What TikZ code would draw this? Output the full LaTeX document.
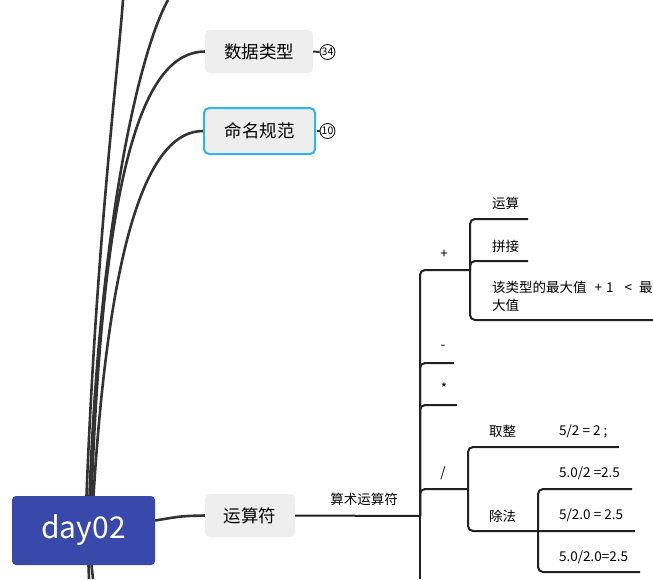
\documentclass[tikz,border=0pt]{standalone}
\usepackage{fontspec}
\setmainfont{Noto Sans CJK SC}
\usetikzlibrary{positioning}
\definecolor{rootblue}{HTML}{3949AB}
\definecolor{topicgray}{HTML}{EEEEEE}
\definecolor{selcyan}{HTML}{2CB5EE}
\definecolor{linegray}{HTML}{333333}
\tikzset{
    root/.style={fill=rootblue, rounded corners=4pt, minimum width=143, minimum height=69, text=white, font=\fontsize{30}{36}\selectfont},
    topic/.style={fill=topicgray, rounded corners=5pt, minimum width=108, minimum height=43, inner sep=0, font=\fontsize{17.5}{20}\selectfont},
    badge/.style={draw=black, circle, inner sep=0, minimum size=15, line width=0.8pt, font=\fontsize{10.5}{11}\selectfont},
    leaf/.style={inner sep=0, font=\fontsize{13.5}{18}\selectfont},
    branch/.style={linegray, line width=2.6pt},
    logic/.style={black!87, line width=2pt, rounded corners=5pt},
}
\begin{document}
\begin{tikzpicture}[x=1pt,y=-1pt]
                \useasboundingbox[fill=white] (0,0) rectangle (653,579);

                \node[root] (day) at (83.5,530.5) {day02};
                \node[topic] (shuju) at (259,51.5) {数据类型};
                \node[topic, minimum width=111, minimum height=46, draw=selcyan, line width=2pt] (ming) at (259.5,131) {命名规范};
                \node[topic, minimum width=90] (yunsf) at (250,515.5) {运算符};
                \node[badge] (b34) at (327.5,52) {34};
                \node[badge] (b10) at (327.5,131) {10};

                \coordinate (t1) at (123,0);
                \coordinate (t2) at (168,0);
                \coordinate (d1) at (89,579);
                \coordinate (d2) at (93,579);

                \draw[branch] ([xshift=3]day.north) .. controls (96,250) and (117,80) .. (t1);
                \draw[branch] ([xshift=6]day.north) .. controls (100,220) and (140,50) .. (t2);
                \draw[branch] ([xshift=8]day.north) .. controls (104,160) and (145,52) .. (shuju.west);
                \draw[branch] ([xshift=10]day.north) .. controls (110,230) and (150,131) .. (ming.west);
                \draw[branch] ([xshift=5]day.south) -- (d1);
                \draw[branch] ([xshift=8]day.south) -- (d2);
                \draw[branch] ([yshift=10]day.east) .. controls (182,516) .. (yunsf.west);
                \draw[branch, line width=2pt] (shuju.east) -- (b34.west);
                \draw[branch, line width=2pt] ([xshift=1]ming.east) -- (b10.west);

                \node[leaf] (suanshu) at (364,499) {算术运算符};
                \coordinate (opj) at (420,516);
                \coordinate (opend) at (420,579);
                \draw[logic] (yunsf.east) -- (opj);
                \draw[logic] (opj) -- (opend);

                \node[leaf] (plus) at (444,254) {+};
                \node[leaf] (minus) at (443,347) {-};
                \node[leaf] (times) at (444,388) {*};
                \node[leaf] (div) at (443,473) {/};
                \coordinate (plusj) at (470,270);
                \coordinate (minusend) at (454,363);
                \coordinate (timesend) at (457,405);
                \coordinate (divj) at (468,489);
                \draw[logic] (opj) |- (plusj);
                \draw[logic] (opj) |- (minusend);
                \draw[logic] (opj) |- (timesend);
                \draw[logic] (opj) |- (divj);

                \node[leaf, anchor=west] (yun) at (492,203) {运算};
                \node[leaf, anchor=west] (pin) at (492,246) {拼接};
                \node[leaf, anchor=west, align=left] (maxv) at (492,296) {该类型的最大值\hspace{8pt}+\hspace{4pt}1\hspace{11pt}<\hspace{7pt}最\\大值};
                \coordinate (yunend) at (528,219);
                \coordinate (pinend) at (528,261);
                \coordinate (maxend) at (653,320);
                \draw[logic] (plusj) |- (yunend);
                \draw[logic] (plusj) |- (pinend);
                \draw[logic] (plusj) |- (maxend);

                \node[leaf, anchor=west] (quzheng) at (489,431) {取整};
                \node[leaf, anchor=west] (chufa) at (489,516) {除法};
                \node[leaf, anchor=west] (r1) at (559,431) {5/2 = 2 ;};
                \node[leaf, anchor=west] (r2) at (559,473) {5.0/2 =2.5};
                \node[leaf, anchor=west] (r3) at (559,515) {5/2.0 = 2.5};
                \node[leaf, anchor=west] (r4) at (559,557) {5.0/2.0=2.5};
                \coordinate (qzend) at (619,447);
                \coordinate (chuj) at (538,531);
                \coordinate (r2end) at (632,489);
                \coordinate (r3end) at (635,531);
                \coordinate (r4end) at (640,572);
                \draw[logic] (divj) |- (qzend);
                \draw[logic] (divj) |- (chuj) -- (r3end);
                \draw[logic] (chuj) |- (r2end);
                \draw[logic] (chuj) |- (r4end);
            \end{tikzpicture}
\end{document}
